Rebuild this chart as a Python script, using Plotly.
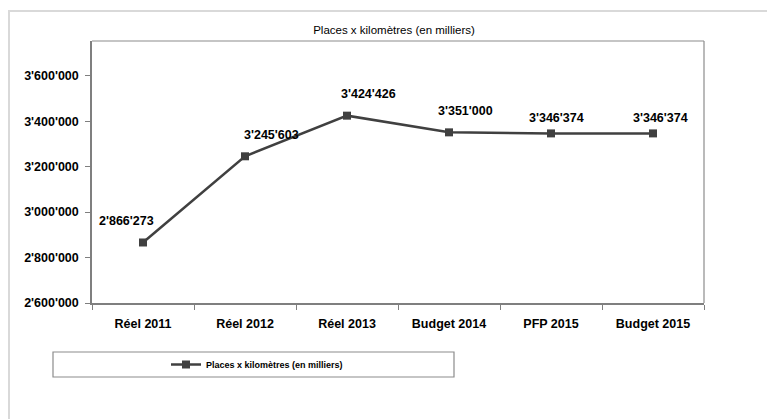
import plotly.graph_objects as go

categories = ["Réel 2011", "Réel 2012", "Réel 2013", "Budget 2014", "PFP 2015", "Budget 2015"]
values = [2866273, 3245603, 3424426, 3351000, 3346374, 3346374]
series_name = "Places x kilomètres (en milliers)"
y_ticks = [2600000, 2800000, 3000000, 3200000, 3400000, 3600000]

def fmt(v):
    return f"{v:,}".replace(",", "'")

# label offsets (style only)
label_dx = [-17, 26, 21, 16, 5, 7]
label_dy = [21, 21, 22, 21, 15, 15]

FONT = "Liberation Sans Narrow, Arial Narrow, Arial, Liberation Sans, sans-serif"
LINE_COL = "#404040"
AX_COL = "#7f7f7f"
LBL = 12.5

# page geometry (browser body adds an 8px offset)
OFF = 8
PX0, PX1, PY0, PY1 = 92, 704, 41, 303   # plot area in page pixels

def px(x):
    return (x - PX0) / (PX1 - PX0)

def py(y):
    return (PY1 - y) / (PY1 - PY0)

fig = go.Figure()
fig.add_trace(go.Scatter(
    x=categories, y=values, mode="lines+markers", name=series_name,
    line=dict(color=LINE_COL, width=2.5),
    marker=dict(symbol="square", size=8, color=LINE_COL),
))

for c, v, dx, dy in zip(categories, values, label_dx, label_dy):
    fig.add_annotation(x=c, y=v, text=fmt(v), showarrow=False,
                       xshift=dx, yshift=dy,
                       font=dict(family=FONT, size=LBL, color="#000000", weight="bold"))

fig.update_layout(
    width=775, height=419,
    margin=dict(l=PX0 - OFF, r=775 + OFF - PX1, t=PY0 - OFF, b=419 + OFF - PY1),
    paper_bgcolor="white", plot_bgcolor="white",
    title=dict(text=series_name, x=px(394), xref="paper", xanchor="center",
               y=1 - (30 - OFF) / 419, yanchor="middle",
               font=dict(family=FONT, size=11.5, color="#000000")),
    showlegend=True,
    legend=dict(orientation="h", x=px(257), xanchor="center",
                y=py(364.5), yanchor="middle",
                bgcolor="rgba(0,0,0,0)", borderwidth=0,
                font=dict(family=FONT, size=9, color="#000000", weight="bold"),
                itemwidth=30),
    xaxis=dict(type="category", range=[-0.5, 5.5], showgrid=False,
               showline=True, linecolor=AX_COL, linewidth=1.5, mirror=False,
               ticks="outside", ticklen=5, tickcolor=AX_COL, tickson="boundaries",
               ticklabelstandoff=8,
               tickfont=dict(family=FONT, size=LBL, color="#000000", weight="bold"),
               fixedrange=True),
    yaxis=dict(range=[2600000, 3753000], tickvals=y_ticks,
               ticktext=[fmt(t) for t in y_ticks], showgrid=False, zeroline=False,
               showline=True, linecolor=AX_COL, linewidth=1.5,
               ticks="outside", ticklen=5, tickcolor=AX_COL, ticklabelstandoff=4,
               tickfont=dict(family=FONT, size=LBL, color="#000000", weight="bold"),
               fixedrange=True),
)

# plot box top/right edges
fig.add_shape(type="line", xref="paper", yref="paper", x0=0, x1=1, y0=1, y1=1,
              line=dict(color="#8c8c8c", width=1.2))
fig.add_shape(type="line", xref="paper", yref="paper", x0=1, x1=1, y0=0, y1=1,
              line=dict(color="#8c8c8c", width=1.2))
# outer chart border
fig.add_shape(type="rect", xref="paper", yref="paper",
              x0=px(9), x1=px(790), y0=py(440), y1=py(11),
              line=dict(color="#d9d9d9", width=2), layer="below")
# legend box
fig.add_shape(type="rect", xref="paper", yref="paper",
              x0=px(53), x1=px(454), y0=py(377), y1=py(352),
              line=dict(color="#8c8c8c", width=1.2))

fig.write_html("out.html")
